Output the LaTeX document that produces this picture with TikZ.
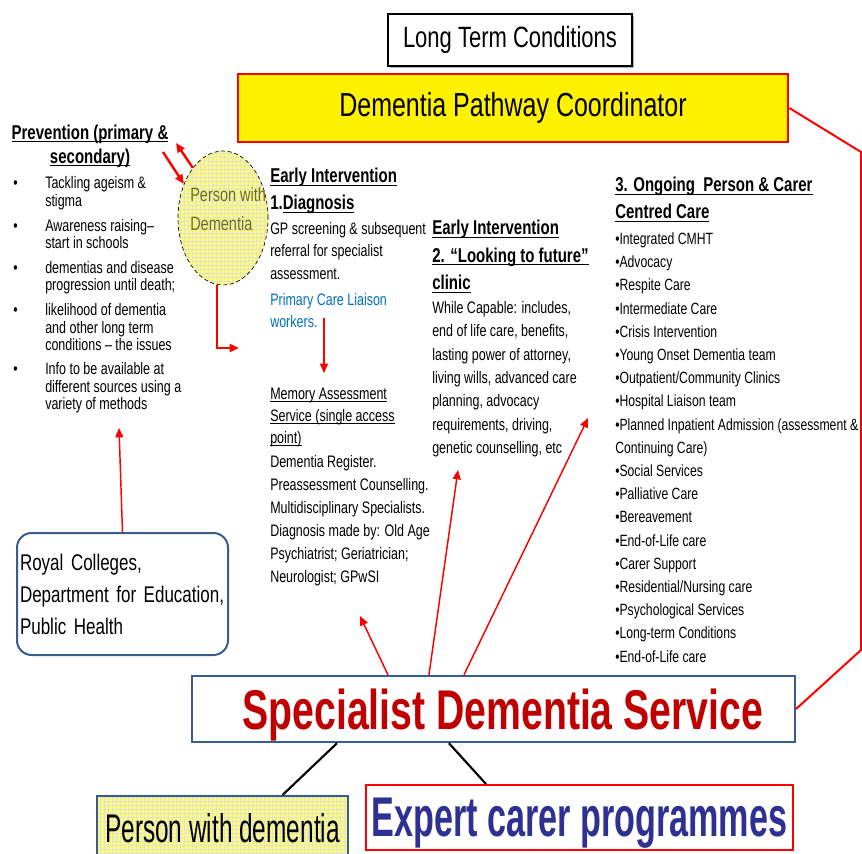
\documentclass[tikz,border=0pt]{standalone}
\usepackage{fontspec}
\setmainfont{Liberation Sans}[FakeStretch=0.75]
\newfontfamily\sdsfont{Liberation Sans}[FakeStretch=0.7]
\newfontfamily\expfont{Liberation Sans}[FakeStretch=0.61]
\usepackage{xcolor}
\usetikzlibrary{positioning,calc,shapes.geometric,arrows.meta,patterns,shadows}
\definecolor{pwdyellow}{RGB}{255,255,110}
\definecolor{pwdolive}{RGB}{110,110,30}
\definecolor{sdsred}{RGB}{192,0,0}
\definecolor{expblue}{RGB}{46,49,146}
\definecolor{boxblue}{RGB}{56,93,138}
\definecolor{liaisonblue}{RGB}{0,112,192}
\newsavebox{\ulnbox}
\newcommand{\uln}[1]{\sbox{\ulnbox}{#1}\rlap{\rule[-2.4pt]{\wd\ulnbox}{0.9pt}}\usebox{\ulnbox}}
\newcommand{\prevbullet}{\makebox[24pt][l]{\textbullet}}
\newcommand{\previndent}{\hspace*{24pt}}
\tikzset
{
  textblock/.style  = {anchor=north west, inner sep=0pt, align=left},
  bodytext/.style   = {textblock, font=\fontsize{12.5}{17.25}\selectfont},
  headtext/.style   = {textblock, font=\bfseries\fontsize{15}{20.25}\selectfont},
  ltcbox/.style     = {draw=black, line width=1.1pt, fill=white, minimum width=183pt, minimum height=39pt, inner sep=0pt, font=\fontsize{22}{26}\selectfont, drop shadow={shadow xshift=1.2pt, shadow yshift=-1.2pt, opacity=0.6}},
  dpcbox/.style     = {draw=red, line width=2pt, fill=yellow, minimum width=412.5pt, minimum height=51pt, inner sep=0pt, font=\fontsize{25}{30}\selectfont},
  pwdcircle/.style  = {ellipse, draw=black, densely dashed, line width=0.5pt, minimum width=67.5pt, minimum height=100.5pt, inner sep=0pt, preaction={fill=pwdyellow}, pattern=grid, pattern color=black!12},
  pwdlabel/.style   = {textblock, text=pwdolive, font=\fontsize{14.5}{21.75}\selectfont},
  royalbox/.style   = {draw=boxblue, line width=1.5pt, rounded corners=11pt, fill=white, minimum width=158.25pt, minimum height=91.5pt, text width=153.75pt, inner xsep=2.25pt, inner ysep=0pt, align=left, font=\fontsize{17}{24}\selectfont},
  sdsbox/.style     = {draw=boxblue, line width=1.8pt, fill=white, minimum width=452pt, minimum height=49.5pt, inner sep=0pt, text depth=0pt, text=sdsred, font=\sdsfont\bfseries\fontsize{42}{46}\selectfont, drop shadow={shadow xshift=1pt, shadow yshift=-1pt, opacity=0.4}},
  pwdbox/.style     = {draw=boxblue, line width=1.5pt, minimum width=188.25pt, minimum height=47.25pt, inner sep=0pt, text depth=0pt, preaction={fill=pwdyellow}, pattern=grid, pattern color=black!12, font=\expfont\fontsize{30}{34}\selectfont},
  expbox/.style     = {draw=red, line width=1.5pt, fill=white, minimum width=320.25pt, minimum height=48.75pt, inner sep=0pt, text depth=0pt, text=expblue, font=\expfont\bfseries\fontsize{42}{46}\selectfont},
  redarrow/.style   = {->, draw=red, line width=1.1pt},
  midarrow/.style   = {redarrow, line width=1.8pt},
  thickarrow/.style = {redarrow, line width=2.2pt},
  redlink/.style    = {draw=red, line width=1.5pt},
  blacklink/.style  = {draw=black, line width=1.6pt}
}

\begin{document}
\begin{tikzpicture}[x=0.75pt, y=-0.75pt, >={Triangle[length=7pt,width=6pt]}]
  \useasboundingbox (0,0) rectangle (862,853);

  \node [ltcbox] (ltc) at (510,40) {Long Term Conditions};
  \node [dpcbox] (dpc) at (513,108) {Dementia Pathway Coordinator};
  \node [pwdcircle] (pwd) at (223,218) {};
  \node [pwdlabel] (pwdtext) at (190,187) {Person with\\Dementia};

  \node [headtext, anchor=north, align=center, font=\bfseries\fontsize{15}{18}\selectfont] (prevhead) at (90,124.5)
    {\uln{Prevention (primary \&}\\\uln{secondary)}};
  \node [bodytext, font=\fontsize{12.5}{13.1}\selectfont] (prevlist) at (13,176.5)
    {\prevbullet Tackling ageism \&\\\previndent stigma\\[5.5pt]
     \prevbullet Awareness raising–\\\previndent start in schools\\[5.5pt]
     \prevbullet dementias and disease\\\previndent progression until death;\\[5.5pt]
     \prevbullet likelihood of dementia\\\previndent and other long term\\\previndent conditions – the issues\\[5pt]
     \prevbullet Info to be available at\\\previndent different sources using a\\\previndent variety of methods};

  \node [headtext] (diaghead) at (270,167.8) {\uln{Early Intervention}\\1.\uln{Diagnosis}};
  \node [bodytext, font=\fontsize{12.5}{16.9}\selectfont] (diagbody) at (270,222)
    {GP screening \& subsequent\\referral for specialist\\assessment.\\[2.6pt]
     \textcolor{liaisonblue}{Primary Care Liaison}\\\textcolor{liaisonblue}{workers.}};
  \node [bodytext, font=\fontsize{12.5}{16.5}\selectfont] (memhead) at (270,387.5)
    {\uln{Memory Assessment}\\\uln{Service (single access}\\\uln{point)}};
  \node [bodytext] (membody) at (270,455)
    {Dementia Register.\\Preassessment Counselling.\\Multidisciplinary Specialists.\\
     Diagnosis made by: Old Age\\Psychiatrist; Geriatrician;\\Neurologist; GPwSI};

  \node [headtext, font=\bfseries\fontsize{15}{20.6}\selectfont] (futhead) at (432,220)
    {\uln{Early Intervention}\\\uln{2. “Looking to future”}\\\uln{clinic}};
  \node [bodytext, font=\fontsize{12.5}{17.5}\selectfont] (futbody) at (432,301)
    {While Capable: includes,\\end of life care,  benefits,\\lasting power of attorney,\\
     living wills, advanced care\\planning, advocacy\\requirements, driving,\\genetic counselling, etc};

  \node [headtext] (carehead) at (615,177) {\uln{3. Ongoing\ \ Person \& Carer}\\\uln{Centred Care}};
  \node [bodytext, font=\fontsize{12.2}{17.4}\selectfont] (carebody) at (615,232.5)
    {\textbullet Integrated CMHT\\\textbullet Advocacy\\\textbullet Respite Care\\
     \textbullet Intermediate Care\\\textbullet Crisis Intervention\\\textbullet Young Onset Dementia team\\
     \textbullet Outpatient/Community Clinics\\\textbullet Hospital Liaison team\\
     \textbullet Planned Inpatient Admission (assessment \&\\Continuing Care)\\
     \textbullet Social Services\\\textbullet Palliative Care\\\textbullet Bereavement\\
     \textbullet End-of-Life care\\\textbullet Carer Support\\\textbullet Residential/Nursing care\\
     \textbullet Psychological Services\\\textbullet Long-term Conditions\\\textbullet End-of-Life care};

  \node [royalbox] (royal) at (122.5,594) {Royal Colleges,\\Department for Education,\\Public Health};
  \node [sdsbox] (sds) at (493.5,709) {\hspace*{14pt}Specialist Dementia Service};
  \node [pwdbox] (pwdbox) at (222.5,827.5) {Person with dementia};
  \node [expbox] (expert) at (579.5,817.5) {Expert carer programmes};

  \coordinate (prevtip) at (176,143);
  \coordinate (prevtail) at (163,152);
  \coordinate (pwdtip) at (239,348);
  \coordinate (diagout) at (324,318);
  \coordinate (memtip) at (324,373);
  \coordinate (royaltip) at (119,428);
  \coordinate (regtip) at (360,616);
  \coordinate (futtip) at (458,470);
  \coordinate (caretip) at (588,418);
  \coordinate (rimtop) at (861,152);
  \coordinate (rimbot) at (861,650);

  \draw [midarrow] (pwd.121) -- (prevtip);
  \draw [midarrow] (prevtail) -- (pwd.139);
  \draw [thickarrow] ([xshift=-4.5pt]pwd.south) |- (pwdtip);
  \draw [redarrow] (diagout) -- (memtip);
  \draw [redarrow] (royal.north) -- (royaltip);
  \draw [redarrow] ($(sds.north west)+(197,0)$) -- (regtip);
  \draw [redarrow] ($(sds.north west)+(238,0)$) -- (futtip);
  \draw [redarrow] ($(sds.north west)+(273,0)$) -- (caretip);
  \draw [redlink] (dpc.east) -- (rimtop) -- (rimbot) -- (sds.east);
  \draw [blacklink] ($(sds.south west)+(146,0)$) -- ($(pwdbox.north)+(60,0)$);
  \draw [blacklink] ($(sds.south west)+(258,0)$) -- ($(expert.north west)+(121,0)$);
\end{tikzpicture}
\end{document}
